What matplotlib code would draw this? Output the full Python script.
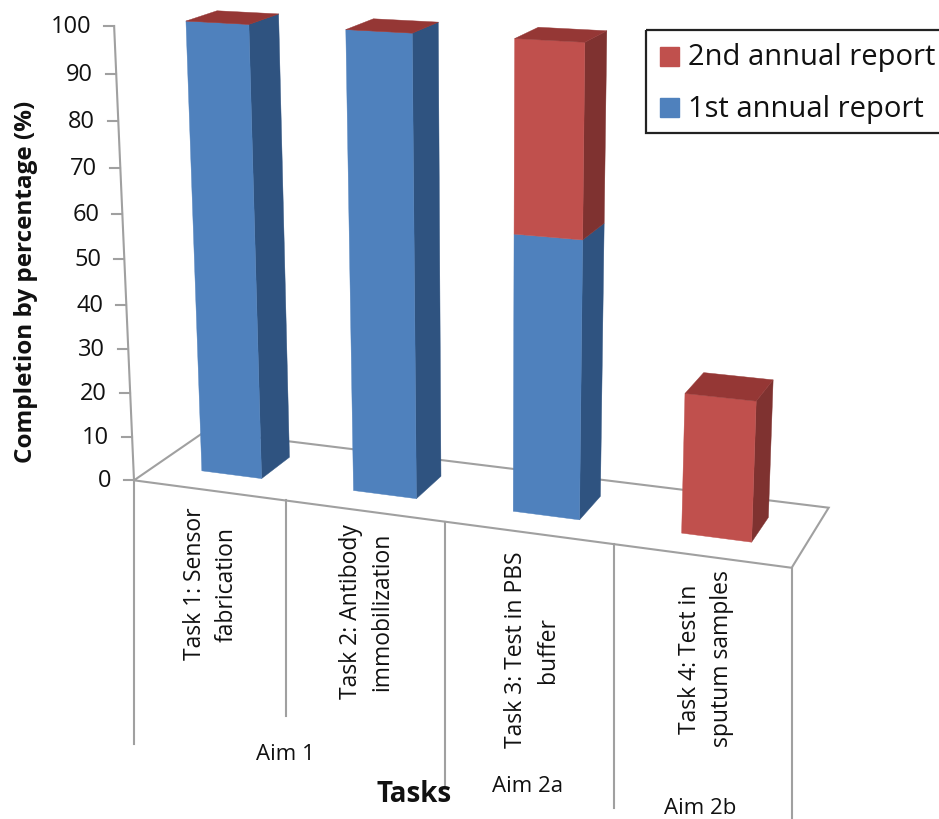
#!/usr/bin/env python3
# -*- coding: utf-8 -*-

# Stacked 3D column chart of task completion, drawn on a flat axes through
# a small perspective camera so every face comes from the data values.

import numpy as np
import matplotlib
matplotlib.use('Agg')
import matplotlib.pyplot as plt
from matplotlib.patches import Polygon, Rectangle

plt.rcParams['font.family'] = ['Open Sans', 'DejaVu Sans']

tasks = ['Task 1: Sensor\nfabrication',
         'Task 2: Antibody\nimmobilization',
         'Task 3: Test in PBS\nbuffer',
         'Task 4: Test in\nsputum samples']
aims = ['Aim 1', 'Aim 2a', 'Aim 2b']
first_report = [100, 100, 60, 0]
second_report = [0, 0, 40, 30]
y_ticks = list(range(0, 101, 10))

BLUE = ('#4F81BD', '#2F5380', '#3A6496')
RED = ('#C0504D', '#7F3230', '#953735')
GREY = '#A0A0A0'

# world points (category, depth, percent) and where they land on the canvas
CAL_WORLD = [(0, 0, 0), (1, 0, 0), (2, 0, 0), (3, 0, 0), (4, 0, 0), (4, 1, 0),
             (0, 0, 100), (.31, .3, 0), (.71, .3, 0), (.71, .72, 0),
             (.31, .3, 100), (.71, .3, 100), (.71, .72, 100), (.31, .72, 100),
             (2.31, .3, 100), (2.71, .3, 100), (2.71, .72, 100),
             (2.31, .3, 0), (2.71, .3, 0),
             (3.31, .3, 0), (3.71, .3, 0), (3.71, .72, 0),
             (3.31, .3, 30), (3.71, .3, 30)]
CAL_PIXEL = [(135, 481), (285, 501), (445, 522), (612, 545), (792, 569), (830, 507),
             (115, 25), (202, 470), (262, 478), (289, 458),
             (186, 20), (249, 24), (278, 15), (216, 11),
             (515, 38), (585, 43), (607, 32),
             (513, 512), (580, 520),
             (681, 532), (752, 541), (768, 517),
             (685, 393), (756, 401)]

BAR_LEFT, BAR_RIGHT = 0.31, 0.71
BAR_FRONT, BAR_BACK = 0.30, 0.72


def fit_camera(world, pixel):
    rows = []
    rhs = []
    for (x, d, v), (u, w) in zip(world, pixel):
        rows.append([x, d, v, 1, 0, 0, 0, 0, -u * x, -u * d, -u * v])
        rhs.append(u)
        rows.append([0, 0, 0, 0, x, d, v, 1, -w * x, -w * d, -w * v])
        rhs.append(w)
    p = np.linalg.lstsq(np.array(rows, float), np.array(rhs, float), rcond=None)[0]
    return np.append(p, 1).reshape(3, 4)


CAMERA = fit_camera(CAL_WORLD, CAL_PIXEL)


def project(x, d, v):
    a = CAMERA @ np.array([x, d, v, 1.0])
    return a[0] / a[2], a[1] / a[2]


def draw_block(ax, i, low, high, colors, with_top):
    x0, x1 = i + BAR_LEFT, i + BAR_RIGHT
    d0, d1 = BAR_FRONT, BAR_BACK
    side = [project(x1, d0, low), project(x1, d1, low),
            project(x1, d1, high), project(x1, d0, high)]
    front = [project(x0, d0, low), project(x1, d0, low),
             project(x1, d0, high), project(x0, d0, high)]
    ax.add_patch(Polygon(side, color=colors[1], lw=0.3, zorder=3 + i))
    ax.add_patch(Polygon(front, color=colors[0], lw=0.3, zorder=3 + i))
    if with_top:
        top = [project(x0, d0, high), project(x1, d0, high),
               project(x1, d1, high), project(x0, d1, high)]
        ax.add_patch(Polygon(top, color=colors[2], lw=0.3, zorder=3 + i))


fig = plt.figure(figsize=(9.39, 8.19), dpi=100)
ax = fig.add_axes([0, 0, 1, 1])
ax.set_xlim(0, 939)
ax.set_ylim(819, 0)
ax.axis('off')

# floor of the plot
floor = [project(0, 0, 0), project(4, 0, 0), project(4, 1, 0), project(0, 1, 0)]
ax.add_patch(Polygon(floor, fill=False, edgecolor=GREY, lw=1.5, zorder=1))

# value axis with ticks and labels
ax.plot(*zip(project(0, 0, 0), project(0, 0, 100)), color=GREY, lw=1.5, zorder=1)
for t in y_ticks:
    px, py = project(0, 0, t)
    ax.plot([px - 10, px], [py, py], color=GREY, lw=1.5, zorder=1)
    ax.text(px - 23, py + 1, str(t), ha='right', va='center', fontsize=17, color='#111111')

# columns, left to right so nearer faces overlap correctly
for i in range(len(tasks)):
    a, b = first_report[i], second_report[i]
    if a > 0:
        draw_block(ax, i, 0, a, BLUE, False)
    draw_block(ax, i, a, a + b, RED, True)

# multi-level category axis hanging under the front edge
separators = [(0, 744), (1, 716), (2, 785), (3, 808), (4, 819)]
for c, end in separators:
    px, py = project(c, 0, 0)
    ax.plot([px, px], [py, end], color=GREY, lw=1.5, zorder=1)

label_pos = [(211, 584), (367, 612), (532, 650), (706, 659)]
for name, (lx, ly) in zip(tasks, label_pos):
    ax.text(lx, ly, name, rotation=90, ha='center', va='center',
            multialignment='center', fontsize=16.5, linespacing=1.4, color='#111111')

aim_pos = [(285, 754), (528, 786), (700, 809)]
for name, (lx, ly) in zip(aims, aim_pos):
    ax.text(lx, ly, name, ha='center', va='center', fontsize=16, color='#111111')

ax.text(414, 794, 'Tasks', ha='center', va='center', fontsize=20,
        fontweight='bold', color='#111111')
ax.text(26, 282, 'Completion by percentage (%)', rotation=90, ha='center',
        va='center', fontsize=17.5, fontweight='bold', color='#111111')

# legend box runs off the right edge
ax.add_patch(Rectangle((646, 30), 300, 103, fill=False, edgecolor='#222222',
                       lw=1.6, zorder=6))
ax.add_patch(Rectangle((660, 47), 19, 19, color=RED[0], zorder=6))
ax.add_patch(Rectangle((660, 98), 19, 19, color=BLUE[0], zorder=6))
ax.text(688, 58, '2nd annual report', va='center', fontsize=21, color='#111111', zorder=6)
ax.text(688, 109, '1st annual report', va='center', fontsize=21, color='#111111', zorder=6)

fig.savefig('out.png', dpi=100)
